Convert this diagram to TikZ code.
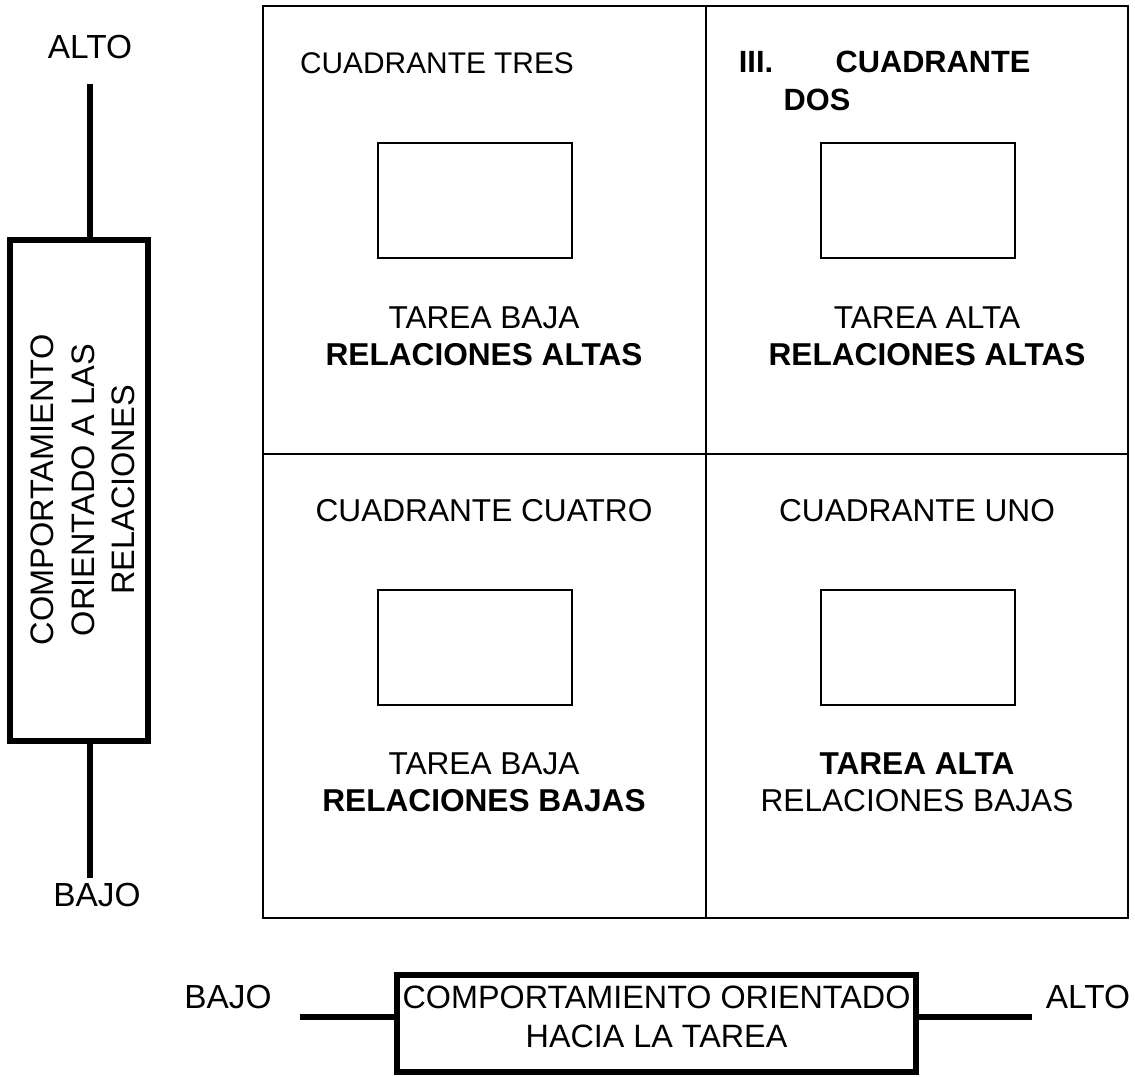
\documentclass[tikz,border=0pt]{standalone}
\usepackage{fontspec}
\setmainfont{Liberation Sans}
\usetikzlibrary{positioning}

\begin{document}
\begin{tikzpicture}[x=0.02cm, y=-0.02cm, font=\fontsize{18}{21}\selectfont,
  cell/.style={draw, line width=1.1pt, inner sep=0pt},
  smallbox/.style={draw, line width=1.1pt, minimum width=3.88cm, minimum height=2.3cm, inner sep=0pt},
  axisbox/.style={draw, line width=3.2pt, inner sep=0pt},
  axisline/.style={line width=3.4pt},
  lbl/.style={align=center, inner sep=0pt},
  endlbl/.style={lbl, font=\fontsize{19}{22}\selectfont}]
\useasboundingbox (0,0) rectangle (1135,1076);
% cuadrantes
\node[cell, minimum width=8.86cm, minimum height=8.96cm] (q3) at (484.5,230) {};
\node[cell, minimum width=8.44cm, minimum height=8.96cm] (q2) at (917,230) {};
\node[cell, minimum width=8.86cm, minimum height=9.28cm] (q4) at (484.5,686) {};
\node[cell, minimum width=8.44cm, minimum height=9.28cm] (q1) at (917,686) {};
\node[smallbox] (b3) at (475,200.5) {};
\node[smallbox] (b2) at (918,200.5) {};
\node[smallbox] (b4) at (475,647.5) {};
\node[smallbox] (b1) at (918,647.5) {};
% textos de cuadrantes
\node[lbl, font=\fontsize{17}{20}\selectfont] (t3) at (437,63) {CUADRANTE TRES};
\node[lbl, font=\fontsize{17.5}{20}\selectfont\bfseries] (t2a) at (756,62) {III.};
\node[lbl, font=\fontsize{17.5}{20}\selectfont\bfseries] (t2b) at (933,62) {CUADRANTE};
\node[lbl, font=\fontsize{17.5}{20}\selectfont\bfseries] (t2c) at (817,100) {DOS};
\node[lbl] (t4) at (484,511) {CUADRANTE CUATRO};
\node[lbl] (t1) at (917,511) {CUADRANTE UNO};
\node[lbl] (d3) at (484,336) {TAREA BAJA\\\textbf{RELACIONES ALTAS}};
\node[lbl] (d2) at (927,336) {TAREA ALTA\\\textbf{RELACIONES ALTAS}};
\node[lbl] (d4) at (484,782) {TAREA BAJA\\\textbf{RELACIONES BAJAS}};
\node[lbl] (d1) at (917,782) {\textbf{TAREA ALTA}\\RELACIONES BAJAS};
% eje vertical
\node[axisbox, minimum width=2.76cm, minimum height=10.02cm] (rel) at (79,490.5) {};
\node[lbl, rotate=90, font=\fontsize{18.5}{23}\selectfont] (relt) at (83,490) {COMPORTAMIENTO\\ORIENTADO A LAS\\RELACIONES};
\node[endlbl] (valto) at (90,47) {ALTO};
\node[endlbl] (vbajo) at (97,895) {BAJO};
\coordinate (vtop) at (90,84);
\coordinate (vbot) at (90,878);
\draw[axisline] (rel.north -| vtop) -- (vtop);
\draw[axisline] (rel.south -| vbot) -- (vbot);
% eje horizontal
\node[axisbox, minimum width=10.38cm, minimum height=1.94cm] (tar) at (656.5,1023.5) {};
\node[lbl, font=\fontsize{18.4}{22}\selectfont] (tart) at (656.5,1017) {COMPORTAMIENTO ORIENTADO\\HACIA LA TAREA};
\node[endlbl] (hbajo) at (228,997) {BAJO};
\node[endlbl] (halto) at (1088,997) {ALTO};
\coordinate (hleft) at (300,1017);
\coordinate (hright) at (1032,1017);
\draw[axisline] (tar.west |- hleft) -- (hleft);
\draw[axisline] (tar.east |- hright) -- (hright);
\end{tikzpicture}
\end{document}
